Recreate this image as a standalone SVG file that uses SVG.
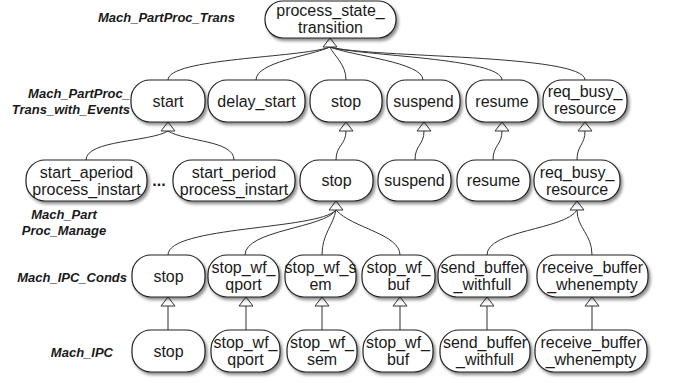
<svg xmlns="http://www.w3.org/2000/svg" xmlns:xlink="http://www.w3.org/1999/xlink" width="673" height="383" viewBox="0 0 673 383">
<defs>
<filter id="sh" x="-10%" y="-10%" width="130%" height="140%">
<feDropShadow dx="2" dy="2.5" stdDeviation="1.5" flood-color="#000" flood-opacity="0.45"/>
</filter>
<path id="tri" d="M0,0 L-7,9 L7,9 Z" fill="#fff" stroke="#333" stroke-width="1"/>
</defs>
<style>
.n rect{fill:#fff;stroke:#222;stroke-width:1.2;filter:url(#sh)}
.n text{font-family:"Liberation Sans",Arial,sans-serif;font-size:16px;fill:#1a1a1a;text-anchor:middle}
.lbl{font-family:"Liberation Sans",Arial,sans-serif;font-size:13px;font-weight:bold;font-style:italic;fill:#1a1a1a}
#connectors path{fill:none;stroke:#333;stroke-width:1}
</style>
<rect width="673" height="383" fill="#fff"/>

<g id="labels">
<text class="lbl" x="235" y="22" text-anchor="end">Mach_PartProc_Trans</text>
<text class="lbl" x="130" y="98" text-anchor="end">Mach_PartProc_</text>
<text class="lbl" x="130" y="114" text-anchor="end">Trans_with_Events</text>
<text class="lbl" x="64" y="219" text-anchor="middle">Mach_Part</text>
<text class="lbl" x="64" y="235" text-anchor="middle">Proc_Manage</text>
<text class="lbl" x="127" y="282" text-anchor="end">Mach_IPC_Conds</text>
<text class="lbl" x="113" y="357" text-anchor="end">Mach_IPC</text>
<text x="159" y="186" font-family="Liberation Sans,Arial,sans-serif" font-size="16" font-weight="bold" text-anchor="middle" fill="#1a1a1a">...</text>
</g>

<g id="connectors">
<!-- row2 to root -->
<path d="M168,80 C168,58 300,58 330,47"/>
<path d="M256,80 C256,62 310,56 330,47"/>
<path d="M346,80 C346,64 334,56 330,47"/>
<path d="M423,80 C423,62 352,56 330,47"/>
<path d="M502,80 C502,58 360,56 330,47"/>
<path d="M585,80 C585,54 370,58 330,47"/>
<use xlink:href="#tri" x="330" y="38"/>
<!-- row3 to row2 -->
<path d="M86,160 C86,140 150,142 168,131"/>
<path d="M234,160 C234,140 186,142 168,131"/>
<use xlink:href="#tri" x="168" y="122"/>
<path d="M336,160 C336,145 346,145 346,131"/>
<use xlink:href="#tri" x="346" y="122"/>
<path d="M415,160 C415,145 424,145 424,131"/>
<use xlink:href="#tri" x="424" y="122"/>
<path d="M493,160 C493,145 502,145 502,131"/>
<use xlink:href="#tri" x="502" y="122"/>
<path d="M577,160 C577,145 585,145 585,131"/>
<use xlink:href="#tri" x="585" y="122"/>
<!-- row4 to row3 -->
<path d="M168,255 C168,226 318,230 336,210"/>
<path d="M245,255 C245,230 325,228 336,210"/>
<path d="M322,255 C322,234 333,226 336,210"/>
<path d="M400,255 C400,234 352,228 336,210"/>
<use xlink:href="#tri" x="336" y="201"/>
<path d="M487,255 C487,230 565,230 577,210"/>
<path d="M592,255 C592,234 577,228 577,210"/>
<use xlink:href="#tri" x="577" y="201"/>
<!-- row5 to row4 -->
<path d="M168,330 L168,306"/>
<use xlink:href="#tri" x="168" y="297"/>
<path d="M246,330 L246,306"/>
<use xlink:href="#tri" x="246" y="297"/>
<path d="M322,330 L322,306"/>
<use xlink:href="#tri" x="322" y="297"/>
<path d="M400,330 L400,306"/>
<use xlink:href="#tri" x="400" y="297"/>
<path d="M487,330 L487,306"/>
<use xlink:href="#tri" x="487" y="297"/>
<path d="M592,330 L592,306"/>
<use xlink:href="#tri" x="592" y="297"/>
</g>

<g id="n_root" class="n"><rect x="265" y="1" width="131" height="37" rx="18"/><text x="330.5" y="16">process_state_</text><text x="330.5" y="33">transition</text></g>

<g id="n_start" class="n"><rect x="131" y="80" width="74" height="42" rx="19"/><text x="168" y="107">start</text></g>
<g id="n_delay_start" class="n"><rect x="208" y="80" width="97" height="42" rx="19"/><text x="256.5" y="107">delay_start</text></g>
<g id="n_stop2" class="n"><rect x="310" y="80" width="72" height="42" rx="19"/><text x="346" y="107">stop</text></g>
<g id="n_suspend2" class="n"><rect x="387" y="80" width="73" height="42" rx="19"/><text x="423.5" y="107">suspend</text></g>
<g id="n_resume2" class="n"><rect x="466" y="80" width="72" height="42" rx="19"/><text x="502" y="107">resume</text></g>
<g id="n_req2" class="n"><rect x="543" y="80" width="84" height="42" rx="19"/><text x="585" y="97">req_busy_</text><text x="585" y="114">resource</text></g>

<g id="n_start_aperiod" class="n"><rect x="26" y="160" width="121" height="41" rx="19"/><text x="86.5" y="178">start_aperiod</text><text x="86.5" y="195">process_instart</text></g>
<g id="n_start_period" class="n"><rect x="173" y="160" width="122" height="41" rx="19"/><text x="234" y="178">start_period</text><text x="234" y="195">process_instart</text></g>
<g id="n_stop3" class="n"><rect x="300" y="160" width="73" height="41" rx="19"/><text x="336.5" y="186">stop</text></g>
<g id="n_suspend3" class="n"><rect x="378" y="160" width="73" height="41" rx="19"/><text x="414.5" y="186">suspend</text></g>
<g id="n_resume3" class="n"><rect x="457" y="160" width="73" height="41" rx="19"/><text x="493.5" y="186">resume</text></g>
<g id="n_req3" class="n"><rect x="534" y="160" width="86" height="41" rx="19"/><text x="577" y="178">req_busy_</text><text x="577" y="195">resource</text></g>

<g id="n_stop4" class="n"><rect x="132" y="255" width="73" height="42" rx="19"/><text x="168.5" y="282">stop</text></g>
<g id="n_qport4" class="n"><rect x="208" y="255" width="71" height="42" rx="19"/><text x="243.5" y="273">stop_wf_</text><text x="243.5" y="290">qport</text></g>
<g id="n_sem4" class="n"><rect x="285" y="255" width="71" height="42" rx="19"/><text x="320.5" y="273">stop_wf_s</text><text x="320.5" y="290">em</text></g>
<g id="n_buf4" class="n"><rect x="362" y="255" width="73" height="42" rx="19"/><text x="398.5" y="273">stop_wf_</text><text x="398.5" y="290">buf</text></g>
<g id="n_send4" class="n"><rect x="438" y="255" width="89" height="42" rx="19"/><text x="482.5" y="273">send_buffer</text><text x="482.5" y="290">_withfull</text></g>
<g id="n_recv4" class="n"><rect x="537" y="255" width="111" height="42" rx="19"/><text x="592.5" y="273">receive_buffer</text><text x="592.5" y="290">_whenempty</text></g>

<g id="n_stop5" class="n"><rect x="132" y="330" width="73" height="42" rx="19"/><text x="168.5" y="357">stop</text></g>
<g id="n_qport5" class="n"><rect x="211" y="330" width="69" height="42" rx="19"/><text x="245.5" y="348">stop_wf_</text><text x="245.5" y="365">qport</text></g>
<g id="n_sem5" class="n"><rect x="287" y="330" width="70" height="42" rx="19"/><text x="322" y="348">stop_wf_</text><text x="322" y="365">sem</text></g>
<g id="n_buf5" class="n"><rect x="363" y="330" width="70" height="42" rx="19"/><text x="398" y="348">stop_wf_</text><text x="398" y="365">buf</text></g>
<g id="n_send5" class="n"><rect x="440" y="330" width="90" height="42" rx="19"/><text x="485" y="348">send_buffer</text><text x="485" y="365">_withfull</text></g>
<g id="n_recv5" class="n"><rect x="535" y="330" width="112" height="42" rx="19"/><text x="591" y="348">receive_buffer</text><text x="591" y="365">_whenempty</text></g>
</svg>
